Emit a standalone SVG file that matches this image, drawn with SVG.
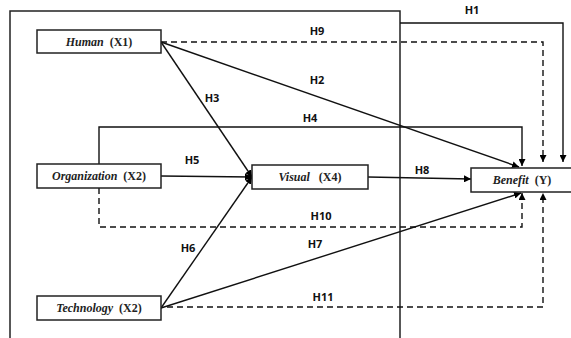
<svg xmlns="http://www.w3.org/2000/svg" width="571" height="338" viewBox="0 0 571 338">
<defs>
<marker id="ah" viewBox="0 0 10 10" refX="10" refY="5" markerWidth="7" markerHeight="7" markerUnits="userSpaceOnUse" orient="auto">
<path d="M0,0 L10,5 L0,10 z" fill="#000"/>
</marker>
</defs>
<style>
.box{fill:#fff;stroke:#222;stroke-width:1.5}
.frame{fill:none;stroke:#222;stroke-width:1.5}
.c{fill:none;stroke:#111;stroke-width:1.4}
.d{fill:none;stroke:#111;stroke-width:1.4;stroke-dasharray:6,4}
.n{font-size:12px;font-weight:bold;text-anchor:middle;fill:#222}
.h{font-size:11px;font-weight:bold;text-anchor:middle;fill:#111}
</style>
<rect width="571" height="338" fill="#fff"/>
<path class="frame" d="M10,338 V11 H400 V338"/>
<g id="connectors">
<path class="c" d="M400,23 H563 V162" marker-end="url(#ah)"/>
<path class="d" d="M161,42 H543 V162" marker-end="url(#ah)"/>
<path class="c" d="M161,42 L519,167" marker-end="url(#ah)"/>
<path class="c" d="M99,164 V127 H522 V166" marker-end="url(#ah)"/>
<path class="c" d="M161,42 L252,177" marker-end="url(#ah)"/>
<path class="c" d="M161,176 L252,177" marker-end="url(#ah)"/>
<path class="c" d="M161,308 L252,177" marker-end="url(#ah)"/>
<path class="c" d="M368,177 L471,179" marker-end="url(#ah)"/>
<path class="d" d="M99,188 V227 H522 V193" marker-end="url(#ah)"/>
<path class="c" d="M161,308 L521,193" marker-end="url(#ah)"/>
<path class="d" d="M167,307 H543 V193" marker-end="url(#ah)"/>
<circle cx="250" cy="177" r="2.5" fill="#000"/>
<g font-family="'Open Sans', 'Liberation Sans', sans-serif">
<text class="h" x="472" y="14">H1</text>
<text class="h" x="317" y="35">H9</text>
<text class="h" x="317" y="84">H2</text>
<text class="h" x="212" y="102">H3</text>
<text class="h" x="310" y="122">H4</text>
<text class="h" x="192" y="164">H5</text>
<text class="h" x="422" y="174">H8</text>
<text class="h" x="321" y="220">H10</text>
<text class="h" x="188" y="252">H6</text>
<text class="h" x="315" y="248">H7</text>
<text class="h" x="323" y="301">H11</text>
</g>
</g>
<g font-family="'Liberation Serif', 'DejaVu Serif', serif">
<g id="human">
<rect class="box" x="37" y="30" width="124" height="23"/>
<text class="n" x="99" y="46"><tspan font-style="italic">Human</tspan>&#160; (X1)</text>
</g>
<g id="organization">
<rect class="box" x="37" y="164" width="124" height="24"/>
<text class="n" x="99" y="180"><tspan font-style="italic">Organization</tspan>&#160; (X2)</text>
</g>
<g id="technology">
<rect class="box" x="37" y="296" width="124" height="24"/>
<text class="n" x="99" y="312"><tspan font-style="italic">Technology</tspan>&#160; (X2)</text>
</g>
<g id="visual">
<rect class="box" x="252" y="165" width="116" height="24"/>
<text class="n" x="310" y="181"><tspan font-style="italic">Visual</tspan>&#160;&#160; (X4)</text>
</g>
<g id="benefit">
<rect class="box" x="471" y="168" width="104" height="24"/>
<text class="n" x="522" y="184"><tspan font-style="italic">Benefit</tspan>&#160; (Y)</text>
</g>
</g>
</svg>
